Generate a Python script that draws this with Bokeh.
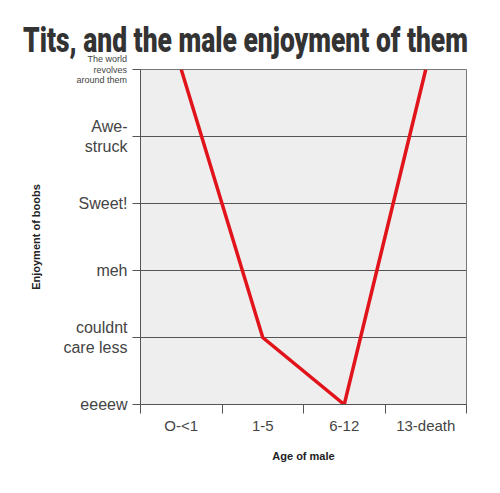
from bokeh.plotting import figure
from bokeh.models import FixedTicker, Range1d, Div
from bokeh.layouts import column
from bokeh.embed import file_html
from bokeh.resources import INLINE

# Age brackets and the enjoyment level reached in each
age_groups = ["O-<1", "1-5", "6-12", "13-death"]
enjoyment = [5, 1, 0, 5]

# Enjoyment scale, bottom to top
levels = ["eeeew", "couldnt\ncare less", "meh", "Sweet!", "Awe-\nstruck",
          "The world\nrevolves\naround them"]

title_text = "Tits, and the male enjoyment of them"

FONT = "Liberation Sans"
INK = "#444444"

# Heading strip: condensed black title plus the small top-of-scale label,
# which hangs down beside the top grid line
top_label_html = "<br>".join(levels[-1].split("\n"))
header_html = (
    "<div style='position:relative;width:500px;height:60px;'>"
    "<div style=\"position:absolute;left:0;top:26px;white-space:nowrap;"
    "font-family:Roboto,'DejaVu Sans';font-weight:900;font-size:33px;"
    "line-height:26px;color:#333333;transform:scale(0.8,1.08);"
    f"transform-origin:115px 0;\">{title_text}</div>"
    "<div style=\"position:absolute;right:373px;top:54px;text-align:right;"
    f"font-family:'{FONT}';font-size:9px;line-height:10.5px;color:{INK};"
    f"white-space:nowrap;z-index:5;\">{top_label_html}</div>"
    "</div>"
)
header = Div(text=header_html, width=500, height=60, margin=0,
             styles={"overflow": "visible", "z-index": "5"})

p = figure(width=500, height=433, output_backend="svg", toolbar_location=None,
           x_range=Range1d(0, len(age_groups)), y_range=Range1d(0, len(levels) - 1),
           min_border_left=140, min_border_right=34, min_border_top=9,
           min_border_bottom=89, margin=0)

p.background_fill_color = "#eeeeee"
p.border_fill_color = None
p.outline_line_color = "#777777"
p.outline_line_width = 1

# Category positions sit between the tick marks
centers = [i + 0.5 for i in range(len(age_groups))]
xax = p.xaxis[0]
xax.ticker = FixedTicker(ticks=centers, minor_ticks=list(range(len(age_groups) + 1)))
xax.major_label_overrides = {c: g for c, g in zip(centers, age_groups)}
xax.major_tick_out = 0
xax.major_tick_in = 0
xax.minor_tick_out = 9
xax.minor_tick_in = 0
xax.minor_tick_line_color = "#555555"
xax.axis_line_color = "#555555"
xax.major_label_text_font = FONT
xax.major_label_text_font_size = "15px"
xax.major_label_text_color = INK
xax.major_label_standoff = 3
xax.axis_label = "Age of male"
xax.axis_label_text_font = FONT
xax.axis_label_text_font_style = "bold"
xax.axis_label_text_font_size = "11px"
xax.axis_label_text_color = "#222222"
xax.axis_label_standoff = 13

yticks = list(range(len(levels)))
yax = p.yaxis[0]
yax.ticker = FixedTicker(ticks=yticks)
overrides = {t: lab for t, lab in zip(yticks, levels)}
overrides[yticks[-1]] = ""
yax.major_label_overrides = overrides
yax.major_tick_out = 8
yax.major_tick_in = 0
yax.major_tick_line_color = "#555555"
yax.minor_tick_line_color = None
yax.axis_line_color = "#555555"
yax.major_label_text_font = FONT
yax.major_label_text_font_size = "16px"
yax.major_label_text_color = INK
yax.major_label_standoff = 5
yax.axis_label = "Enjoyment of boobs"
yax.axis_label_text_font = FONT
yax.axis_label_text_font_style = "bold"
yax.axis_label_text_font_size = "11px"
yax.axis_label_text_color = "#222222"
yax.axis_label_standoff = 18

p.xgrid.grid_line_color = None
p.ygrid.ticker = FixedTicker(ticks=yticks)
p.ygrid.grid_line_color = "#555555"
p.ygrid.grid_line_width = 1

p.line(centers, enjoyment, line_color="#e1141b", line_width=3.5,
       line_join="miter")

layout = column(header, p, spacing=0)
open("out.html", "w").write(file_html(layout, INLINE))
